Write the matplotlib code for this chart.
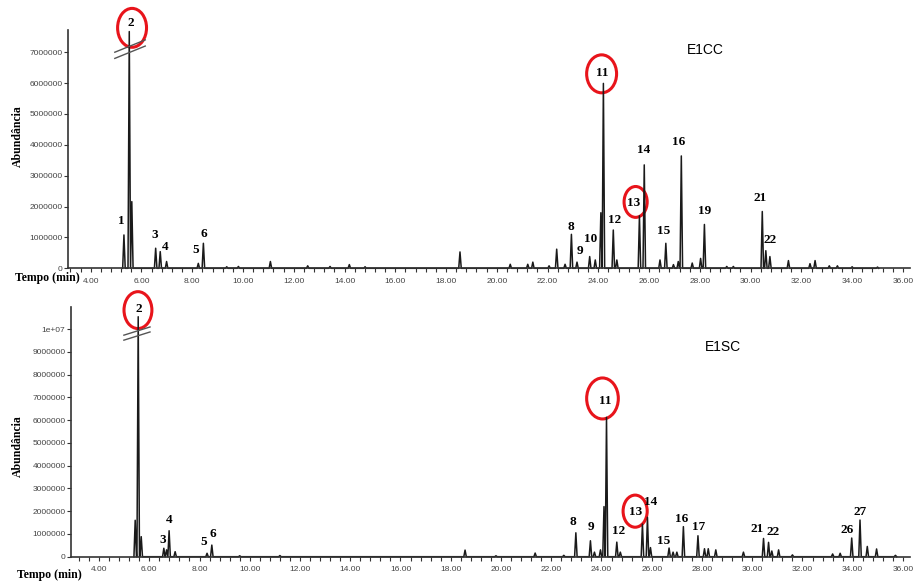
import numpy as np
import matplotlib
matplotlib.use('Agg')
import matplotlib.pyplot as plt
from matplotlib.patches import Ellipse
from matplotlib.ticker import MultipleLocator, FuncFormatter

# --- data (retention time in min, abundance in millions) ---
cc_rt = [5.31, 5.52, 5.62, 6.56, 6.74, 6.99, 8.24, 8.44, 9.36, 9.82, 11.08, 12.55, 13.43,
         14.19, 14.81, 18.55, 20.53, 21.22, 21.42, 22.06, 22.36, 22.69, 22.94, 23.16, 23.66,
         23.88, 24.10, 24.20, 24.59, 24.73, 25.62, 25.81, 26.43, 26.66, 26.96, 27.15, 27.27,
         27.70, 28.03, 28.18, 29.06, 29.32, 30.46, 30.60, 30.76, 31.49, 32.34, 32.54, 33.10,
         33.42, 34.00, 35.00]
cc_abund = [1.08, 7.67, 2.16, 0.65, 0.54, 0.22, 0.16, 0.81, 0.05, 0.06, 0.22, 0.08, 0.06,
            0.12, 0.05, 0.53, 0.13, 0.13, 0.20, 0.08, 0.62, 0.13, 1.10, 0.20, 0.38,
            0.27, 1.80, 5.99, 1.24, 0.27, 1.70, 3.35, 0.27, 0.81, 0.12, 0.22, 3.64,
            0.17, 0.32, 1.42, 0.06, 0.06, 1.84, 0.57, 0.38, 0.25, 0.15, 0.25, 0.08,
            0.08, 0.05, 0.04]

sc_rt = [5.44, 5.56, 5.68, 6.58, 6.69, 6.79, 7.03, 8.30, 8.49, 9.60, 11.20, 18.57, 19.80,
         21.36, 22.50, 22.98, 23.56, 23.72, 23.96, 24.10, 24.20, 24.61, 24.75, 25.63, 25.83,
         25.95, 26.69, 26.85, 27.00, 27.26, 27.84, 28.10, 28.25, 28.55, 29.65, 30.45, 30.65,
         30.78, 31.05, 31.60, 33.20, 33.50, 33.96, 34.29, 34.58, 34.95, 35.70]
sc_abund = [1.60, 10.54, 0.88, 0.37, 0.30, 1.14, 0.22, 0.15, 0.51, 0.04, 0.05, 0.29, 0.04,
            0.16, 0.06, 1.05, 0.70, 0.20, 0.30, 2.20, 6.12, 0.64, 0.20, 1.43, 1.73,
            0.40, 0.38, 0.20, 0.20, 1.32, 0.92, 0.35, 0.35, 0.30, 0.20, 0.80, 0.63,
            0.25, 0.30, 0.08, 0.12, 0.15, 0.82, 1.61, 0.45, 0.34, 0.06]

cc_labels = ['2', '1', '3', '4', '5', '6', '8', '9', '10', '11', '12', '13', '14', '15', '16', '19', '21', '22']
cc_label_rt = [5.60, 5.22, 6.51, 6.93, 8.15, 8.44, 22.91, 23.28, 23.71, 24.16, 24.66, 25.41,
               25.77, 26.59, 27.18, 28.18, 30.37, 30.77]
cc_label_y = [7.95, 1.54, 1.08, 0.70, 0.59, 1.10, 1.35, 0.57, 0.95, 6.32, 1.57, 2.10,
              3.83, 1.22, 4.10, 1.86, 2.29, 0.92]

sc_labels = ['2', '3', '4', '5', '6', '8', '9', '11', '12', '13', '14', '15', '16', '17', '21', '22', '26', '27']
sc_label_rt = [5.57, 6.53, 6.79, 8.15, 8.53, 22.88, 23.59, 24.14, 24.67, 25.36, 25.96, 26.49,
               27.18, 27.86, 30.21, 30.84, 33.76, 34.30]
sc_label_y = [10.90, 0.73, 1.61, 0.63, 0.98, 1.51, 1.29, 6.85, 1.14, 1.95, 2.39, 0.70,
              1.66, 1.32, 1.22, 1.07, 1.17, 1.95]

# circled compounds (centre rt, centre abundance, width min, height millions)
cc_circles = [(5.63, 7.79, 1.14, 1.26), (24.13, 6.30, 1.18, 1.23), (25.47, 2.15, 0.91, 1.00)]
sc_circles = [(5.55, 10.83, 1.11, 1.62), (24.04, 6.95, 1.26, 1.80), (25.34, 2.00, 0.96, 1.41)]

HALF_W = 0.05


def trace(rt, ab):
    # each peak drawn as a narrow spike on the baseline
    xs, ys = [], []
    for t, a in sorted(zip(rt, ab)):
        xs += [t - HALF_W, t, t + HALF_W]
        ys += [0, a * 1e6, 0]
    return xs, ys


def yfmt(v, pos):
    if v >= 1e7:
        return '1e+07'
    return '%d' % v


def setup(ax, xlim, ylim, ymax_tick):
    ax.set_xlim(*xlim)
    ax.set_ylim(*ylim)
    for s in ['top', 'right']:
        ax.spines[s].set_visible(False)
    for s in ['left', 'bottom']:
        ax.spines[s].set_color('#333333')
        ax.spines[s].set_linewidth(1.2)
    ax.xaxis.set_major_locator(MultipleLocator(2))
    ax.xaxis.set_minor_locator(MultipleLocator(0.4))
    ax.xaxis.set_major_formatter(FuncFormatter(lambda v, p: '%.2f' % v if v >= 4 else ''))
    ax.set_yticks(np.arange(0, ymax_tick + 1, 1e6))
    ax.yaxis.set_major_formatter(FuncFormatter(yfmt))
    ax.tick_params(axis='x', which='both', direction='out', length=3, width=0.8,
                   colors='#333333', labelsize=6, pad=4, labelcolor='#444444')
    ax.tick_params(axis='y', direction='out', length=3, width=0.8, colors='#333333',
                   labelsize=6, pad=1, labelcolor='#444444')
    for lab in ax.get_xticklabels() + ax.get_yticklabels():
        lab.set_family('Liberation Sans')


fig = plt.figure(figsize=(9.22, 5.86), dpi=100)
W, H = 922.0, 586.0
ax1 = fig.add_axes([68 / W, 1 - 268.3 / H, (910 - 68) / W, (268.3 - 30) / H])
ax2 = fig.add_axes([71 / W, 1 - 556.7 / H, (910 - 71) / W, (556.7 - 306.7) / H])

serif_bold = dict(family='Liberation Serif', weight='bold')

for ax, rt, ab, labs, lrt, ly, circles, title, xlim, ylim, ymax in [
        (ax1, cc_rt, cc_abund, cc_labels, cc_label_rt, cc_label_y, cc_circles, 'E1CC',
         (3.106, 36.28), (0, 7.72e6), 7e6),
        (ax2, sc_rt, sc_abund, sc_labels, sc_label_rt, sc_label_y, sc_circles, 'E1SC',
         (2.885, 36.28), (0, 10.98e6), 1e7)]:
    xs, ys = trace(rt, ab)
    ax.plot(xs, ys, color='#1a1a1a', lw=1.1, clip_on=False)
    setup(ax, xlim, ylim, ymax)
    for s, t, y in zip(labs, lrt, ly):
        ax.text(t, y * 1e6, s, ha='center', va='center', fontsize=9.5, **serif_bold)
    for cx, cy, w, h in circles:
        ax.add_patch(Ellipse((cx, cy * 1e6), w, h * 1e6, fill=False, edgecolor='#e8141b',
                             lw=2.2, clip_on=False))
    ax.text(28.2 if title == 'E1CC' else 28.83, (7.07 if title == 'E1CC' else 9.22) * 1e6,
            title, ha='center', va='center', fontsize=10, family='Liberation Sans')

# axis break marks on the large peak 2
for ax, t, v, dx, dv, gap in [(ax1, 5.55, 7.1e6, 0.6, 0.2e6, 0.2e6),
                              (ax2, 5.51, 9.8e6, 0.52, 0.18e6, 0.22e6)]:
    for off in (gap / 2, -gap / 2):
        ax.plot([t - dx, t + dx], [v + off - dv, v + off + dv], color='#555555', lw=1.0,
                clip_on=False)

fig.text(18 / W, 1 - 136 / H, 'Abundância', rotation=90, ha='center', va='center',
         fontsize=8.5, **serif_bold)
fig.text(18 / W, 1 - 446 / H, 'Abundância', rotation=90, ha='center', va='center',
         fontsize=8.5, **serif_bold)
fig.text(15 / W, 1 - 278 / H, 'Tempo (min)', ha='left', va='center', fontsize=8.5, **serif_bold)
fig.text(17 / W, 1 - 575 / H, 'Tempo (min)', ha='left', va='center', fontsize=8.5, **serif_bold)

fig.savefig('out.png', dpi=100)
